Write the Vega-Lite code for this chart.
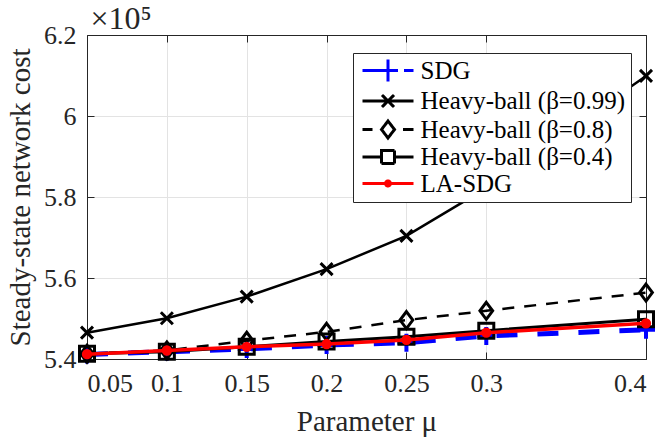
{
  "$schema": "https://vega.github.io/schema/vega-lite/v6.json",
  "width": 559,
  "height": 324,
  "autosize": "none",
  "padding": {"left": 87, "top": 35, "right": 17, "bottom": 80},
  "background": "white",
  "config": {
    "view": {"stroke": null},
    "axis": {"domainColor": "#262626", "tickColor": "#262626", "labelColor": "#262626", "titleColor": "#262626", "labelFont": "Liberation Serif", "labelFontSize": 26, "titleFont": "Liberation Serif", "titleFontSize": 29, "titleFontWeight": "normal", "gridColor": "#e3e3e3", "tickSize": -7, "domainWidth": 1, "tickWidth": 1},
    "legend": {"symbolStrokeWidth": 3, "symbolFillColor": "transparent", "symbolDash": [1, 0]}
  },
  "data": {"values": [
    {"mu": 0.05, "v": 5.411, "s": "SDG"},
    {"mu": 0.1, "v": 5.418, "s": "SDG"},
    {"mu": 0.15, "v": 5.425, "s": "SDG"},
    {"mu": 0.2, "v": 5.4346, "s": "SDG"},
    {"mu": 0.25, "v": 5.44, "s": "SDG"},
    {"mu": 0.3, "v": 5.457, "s": "SDG"},
    {"mu": 0.4, "v": 5.472, "s": "SDG"},
    {"mu": 0.05, "v": 5.465, "s": "Heavy-ball (β=0.99)"},
    {"mu": 0.1, "v": 5.5005, "s": "Heavy-ball (β=0.99)"},
    {"mu": 0.15, "v": 5.554, "s": "Heavy-ball (β=0.99)"},
    {"mu": 0.2, "v": 5.622, "s": "Heavy-ball (β=0.99)"},
    {"mu": 0.25, "v": 5.704, "s": "Heavy-ball (β=0.99)"},
    {"mu": 0.3, "v": 5.822, "s": "Heavy-ball (β=0.99)"},
    {"mu": 0.4, "v": 6.099, "s": "Heavy-ball (β=0.99)"},
    {"mu": 0.05, "v": 5.413, "s": "Heavy-ball (β=0.8)"},
    {"mu": 0.1, "v": 5.421, "s": "Heavy-ball (β=0.8)"},
    {"mu": 0.15, "v": 5.445, "s": "Heavy-ball (β=0.8)"},
    {"mu": 0.2, "v": 5.467, "s": "Heavy-ball (β=0.8)"},
    {"mu": 0.25, "v": 5.496, "s": "Heavy-ball (β=0.8)"},
    {"mu": 0.3, "v": 5.519, "s": "Heavy-ball (β=0.8)"},
    {"mu": 0.4, "v": 5.564, "s": "Heavy-ball (β=0.8)"},
    {"mu": 0.05, "v": 5.413, "s": "Heavy-ball (β=0.4)"},
    {"mu": 0.1, "v": 5.418, "s": "Heavy-ball (β=0.4)"},
    {"mu": 0.15, "v": 5.43, "s": "Heavy-ball (β=0.4)"},
    {"mu": 0.2, "v": 5.443, "s": "Heavy-ball (β=0.4)"},
    {"mu": 0.25, "v": 5.455, "s": "Heavy-ball (β=0.4)"},
    {"mu": 0.3, "v": 5.47, "s": "Heavy-ball (β=0.4)"},
    {"mu": 0.4, "v": 5.498, "s": "Heavy-ball (β=0.4)"},
    {"mu": 0.05, "v": 5.412, "s": "LA-SDG"},
    {"mu": 0.1, "v": 5.421, "s": "LA-SDG"},
    {"mu": 0.15, "v": 5.43, "s": "LA-SDG"},
    {"mu": 0.2, "v": 5.437, "s": "LA-SDG"},
    {"mu": 0.25, "v": 5.447, "s": "LA-SDG"},
    {"mu": 0.3, "v": 5.465, "s": "LA-SDG"},
    {"mu": 0.4, "v": 5.488, "s": "LA-SDG"}
  ]},
  "layer": [
    {
      "encoding": {
        "x": {"field": "mu", "type": "quantitative", "scale": {"domain": [0.05, 0.4], "nice": false, "zero": false},
              "axis": {"values": [0.05, 0.1, 0.15, 0.2, 0.25, 0.3, 0.4], "format": ".2~f", "grid": true, "labelPadding": 18, "title": "Parameter μ", "titleBaseline": "alphabetic", "titleX": 279.5, "titleY": 71}},
        "y": {"field": "v", "type": "quantitative", "scale": {"domain": [5.4, 6.2], "nice": false, "zero": false},
              "axis": {"values": [5.4, 5.6, 5.8, 6, 6.2], "format": ".1~f", "grid": true, "labelPadding": 18, "title": "Steady-state network cost", "titleBaseline": "alphabetic", "titleX": -57.6, "titleY": 162}},
        "color": {"field": "s", "type": "nominal",
          "scale": {"domain": ["SDG", "Heavy-ball (β=0.99)", "Heavy-ball (β=0.8)", "Heavy-ball (β=0.4)", "LA-SDG"], "range": ["#0000ff", "#000000", "#000000", "#000000", "#ff0000"]},
          "legend": {"title": null, "orient": "none", "legendX": 266, "legendY": 18, "padding": 5, "strokeColor": "#262626", "fillColor": "white",
            "labelFont": "Liberation Serif", "labelFontSize": 25, "labelColor": "#000000", "labelLimit": 0, "rowPadding": 0.5,
            "symbolSize": 400, "symbolOffset": 17.5, "labelOffset": 20}
        }
      },
      "layer": [
        {"transform": [{"filter": "datum.s === 'SDG'"}], "mark": {"type": "line", "strokeWidth": 5, "strokeDash": [21, 20]}},
        {"transform": [{"filter": "datum.s === 'SDG'"}], "mark": {"type": "point", "shape": "M-1,0H1M0,-1V1", "size": 324, "strokeWidth": 4, "filled": false, "opacity": 1}},
        {"transform": [{"filter": "datum.s === 'Heavy-ball (β=0.99)'"}], "mark": {"type": "line", "strokeWidth": 2.5}},
        {"transform": [{"filter": "datum.s === 'Heavy-ball (β=0.99)'"}], "mark": {"type": "point", "shape": "M-1,-1L1,1M-1,1L1,-1", "size": 144, "strokeWidth": 3, "filled": false, "opacity": 1}},
        {"transform": [{"filter": "datum.s === 'Heavy-ball (β=0.8)'"}], "mark": {"type": "line", "strokeWidth": 2.5, "strokeDash": [12, 10]}},
        {"transform": [{"filter": "datum.s === 'Heavy-ball (β=0.8)'"}], "mark": {"type": "point", "shape": "M0,-1L0.75,0L0,1L-0.75,0Z", "size": 289, "strokeWidth": 3, "filled": false, "opacity": 1}},
        {"transform": [{"filter": "datum.s === 'Heavy-ball (β=0.4)'"}], "mark": {"type": "line", "strokeWidth": 3}},
        {"transform": [{"filter": "datum.s === 'Heavy-ball (β=0.4)'"}], "mark": {"type": "point", "shape": "M-1,-1H1V1H-1Z", "size": 225, "strokeWidth": 3, "filled": false, "opacity": 1}},
        {"transform": [{"filter": "datum.s === 'LA-SDG'"}], "mark": {"type": "line", "strokeWidth": 3.5}},
        {"transform": [{"filter": "datum.s === 'LA-SDG'"}], "mark": {"type": "point", "shape": "circle", "size": 28, "strokeWidth": 5, "filled": false, "opacity": 1}},
        {"transform": [{"filter": "false"}], "mark": {"type": "point", "filled": false},
         "encoding": {"shape": {"field": "s", "type": "nominal",
           "scale": {"domain": ["SDG", "Heavy-ball (β=0.99)", "Heavy-ball (β=0.8)", "Heavy-ball (β=0.4)", "LA-SDG"],
                     "range": ["M-2.55,0H1M0,-1.1V1.1M1.6,0H2.55", "M-2.55,0H2.55M-0.6,-0.6L0.6,0.6M-0.6,0.6L0.6,-0.6", "M-2.55,0H-1.55M0,-0.85L0.65,0L0,0.85L-0.65,0ZM1.5,0H2.55", "M-2.55,0H-0.65M-0.65,-0.65H0.65V0.65H-0.65ZM0.65,0H2.55", "M-2.55,0H2.55M-0.25,0A0.25,0.25,0,1,0,0.25,0A0.25,0.25,0,1,0,-0.25,0ZM-0.12,0A0.12,0.12,0,1,0,0.12,0A0.12,0.12,0,1,0,-0.12,0Z"]},
           "legend": {"title": null, "orient": "none", "legendX": 266, "legendY": 18, "padding": 5, "strokeColor": "#262626", "fillColor": "white",
            "labelFont": "Liberation Serif", "labelFontSize": 25, "labelColor": "#000000", "labelLimit": 0, "rowPadding": 0.5,
            "symbolSize": 400, "symbolOffset": 17.5, "labelOffset": 20}}}}
      ]
    },
    {
      "mark": {"type": "point", "opacity": 0},
      "encoding": {
        "x": {"field": "mu", "type": "quantitative", "axis": {"orient": "top", "values": [0.05, 0.1, 0.15, 0.2, 0.25, 0.3, 0.4], "labels": false, "grid": false, "title": "×10⁵", "titleFontSize": 32, "titleAlign": "left", "titleAnchor": "start", "titleBaseline": "alphabetic", "titleX": 3, "titleY": -7}},
        "y": {"field": "v", "type": "quantitative", "axis": {"orient": "right", "values": [5.4, 5.6, 5.8, 6, 6.2], "labels": false, "grid": false, "title": null}}
      }
    }
  ],
  "resolve": {"axis": {"x": "independent", "y": "independent"}}
}
